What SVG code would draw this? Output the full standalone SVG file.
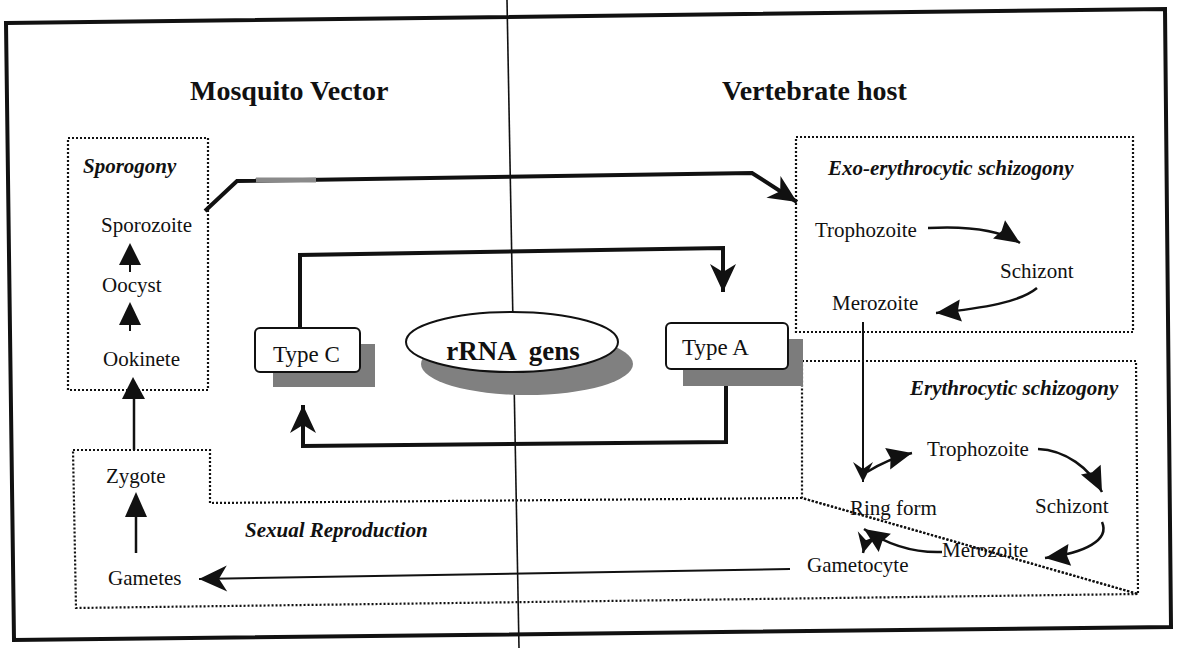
<svg xmlns="http://www.w3.org/2000/svg" width="1178" height="648" viewBox="0 0 1178 648">
<style>
text{font-family:"Liberation Serif","Times New Roman",serif;fill:#111}
.lbl{font-size:21px}
.node{font-size:23px}
.ttl{font-size:28px;font-weight:bold}
.sub{font-size:21px;font-weight:bold;font-style:italic}
.dot{fill:none;stroke:#111;stroke-width:2.2;stroke-dasharray:2 2}
.thick{fill:none;stroke:#111;stroke-width:4;stroke-linejoin:miter}
.mid{fill:none;stroke:#111;stroke-width:2.5}
.thin{fill:none;stroke:#111;stroke-width:2}
.box{fill:#fff;stroke:#111;stroke-width:2}
.shadow{fill:#7c7c7c}
.head{fill:#111}
</style>
<defs>
<marker id="barb" viewBox="-30 -15 32 30" refX="0" refY="0" markerWidth="32" markerHeight="30" markerUnits="userSpaceOnUse" orient="auto">
<path d="M0,0 L-28,-13 L-20,0 L-28,13 Z" fill="#111"/>
</marker>
<marker id="tri" viewBox="-28 -14 30 28" refX="0" refY="0" markerWidth="30" markerHeight="28" markerUnits="userSpaceOnUse" orient="auto">
<path d="M0,0 L-25,-11 L-22,0 L-25,11 Z" fill="#111"/>
</marker>
<marker id="small" viewBox="-22 -11 24 22" refX="0" refY="0" markerWidth="24" markerHeight="22" markerUnits="userSpaceOnUse" orient="auto">
<path d="M0,0 L-20,-10 L-13,0 L-20,10 Z" fill="#111"/>
</marker>
</defs>
<rect width="1178" height="648" fill="#fff"/>
<g id="frame">
<polygon points="6,23 1165,9 1171,627 14,640" fill="none" stroke="#111" stroke-width="4"/>
<line x1="507" y1="0" x2="519" y2="648" stroke="#111" stroke-width="1.6"/>
</g>
<g id="titles">
<text class="ttl" x="190" y="100">Mosquito Vector</text>
<text class="ttl" x="722" y="100">Vertebrate host</text>
</g>
<g id="regions">
<rect id="sporogony-box" class="dot" x="68" y="138" width="140" height="252"/>
<rect id="exo-box" class="dot" x="796" y="137" width="337" height="195"/>
<polygon id="sexual-box" class="dot" points="73,450 210,450 210,503 802,498 1138,594 76,608"/>
<polygon id="ery-box" class="dot" points="802,361 1136,361 1138,594 802,498"/>
<text class="sub" x="83" y="173">Sporogony</text>
<text class="sub" x="245" y="537">Sexual Reproduction</text>
<text class="sub" x="828" y="175">Exo-erythrocytic schizogony</text>
<text class="sub" x="910" y="395">Erythrocytic schizogony</text>
</g>
<g id="connectors">
<path class="thick" d="M205,211 L237,181 L752,173 L797,202" marker-end="url(#barb)"/>
<line x1="256" y1="180" x2="316" y2="180" stroke="#8a8a8a" stroke-width="5"/>
<path class="thick" d="M300,328 L300,255 L723,248 L723,292" marker-end="url(#barb)"/>
<path class="thick" d="M726,386 L726,442 L303,446 L303,405" marker-end="url(#barb)"/>
<line class="thin" x1="130" y1="262" x2="130" y2="272"/>
<polygon class="head" points="130,243 119,265 141,265"/>
<line class="thin" x1="130" y1="322" x2="130" y2="331"/>
<polygon class="head" points="130,302 119,325 141,325"/>
<line class="mid" x1="134" y1="450" x2="134" y2="395"/>
<polygon class="head" points="133,377 122,399 145,399"/>
<line class="mid" x1="136" y1="553" x2="136" y2="514"/>
<polygon class="head" points="136,492 125,517 147,517"/>
<path class="thin" d="M790,569 L199,579" marker-end="url(#barb)"/>
<path class="mid" d="M928,228 C965,226 1000,230 1020,243" marker-end="url(#tri)"/>
<path class="mid" d="M1037,288 C1020,302 985,308 936,313" marker-end="url(#tri)"/>
<path class="thin" d="M863,322 L863,482" marker-end="url(#small)"/>
<path class="mid" d="M867,472 C880,464 895,457 912,453" marker-end="url(#tri)"/>
<path class="mid" d="M1038,449 C1065,450 1090,468 1102,492" marker-end="url(#tri)"/>
<path class="mid" d="M1102,522 C1110,540 1085,553 1045,558" marker-end="url(#tri)"/>
<path class="mid" d="M942,552 C915,553 888,545 864,529" marker-end="url(#tri)"/>
<path class="mid" d="M866,540 L863,553" marker-end="url(#small)"/>
</g>
<g id="node-typeC">
<rect class="shadow" x="273" y="344" width="102" height="43"/>
<rect class="box" x="255" y="328" width="105" height="44" rx="5"/>
<text class="node" x="273" y="362">Type C</text>
</g>
<g id="node-rRNA">
<ellipse cx="527" cy="364" rx="106" ry="31" fill="#808080"/>
<ellipse cx="512" cy="342" rx="106" ry="30" fill="#fff" stroke="#111" stroke-width="2"/>
<text class="ttl" x="513" y="360" text-anchor="middle" xml:space="preserve" style="font-size:27px">rRNA  gens</text>
</g>
<g id="node-typeA">
<rect class="shadow" x="683" y="339" width="120" height="47"/>
<rect class="box" x="666" y="323" width="122" height="46" rx="5"/>
<text class="node" x="682" y="355">Type A</text>
</g>
<g id="mosquito-stages">
<text class="lbl" x="101" y="232">Sporozoite</text>
<text class="lbl" x="102" y="292">Oocyst</text>
<text class="lbl" x="103" y="366">Ookinete</text>
<text class="lbl" x="106" y="483">Zygote</text>
<text class="lbl" x="108" y="585">Gametes</text>
</g>
<g id="host-stages">
<text class="lbl" x="815" y="237">Trophozoite</text>
<text class="lbl" x="1000" y="278">Schizont</text>
<text class="lbl" x="832" y="310">Merozoite</text>
<text class="lbl" x="927" y="456">Trophozoite</text>
<text class="lbl" x="850" y="515">Ring form</text>
<text class="lbl" x="1035" y="513">Schizont</text>
<text class="lbl" x="942" y="557">Merozoite</text>
<text class="lbl" x="807" y="572">Gametocyte</text>
</g>
</svg>
